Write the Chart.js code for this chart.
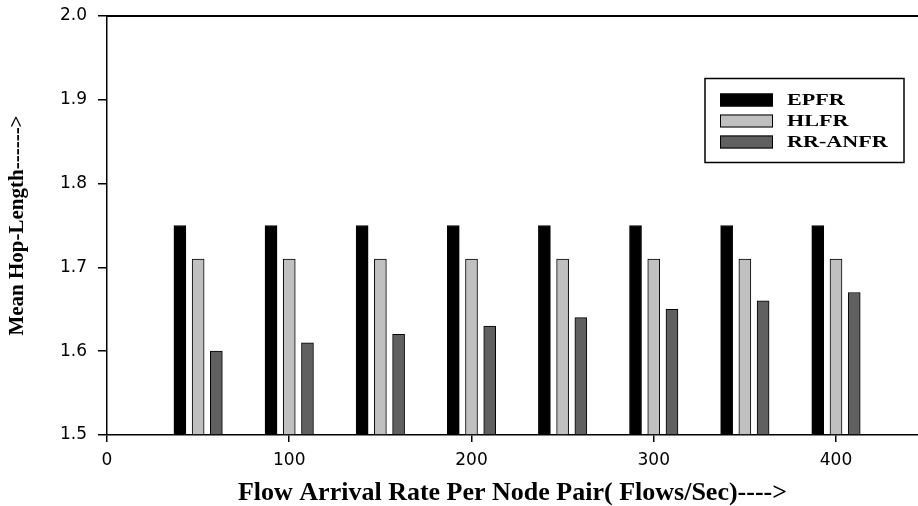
<!DOCTYPE html>
<html>
<head>
<meta charset="utf-8">
<script src="https://cdn.jsdelivr.net/npm/chart.js@4"></script>
<style>
  html, body { margin: 0; padding: 0; background: #fff; }
  #wrap { width: 918px; height: 506px; }
</style>
</head>
<body>
<div id="wrap"><canvas id="myChart"></canvas></div>
<script>
// data
const rates = [50, 100, 150, 200, 250, 300, 350, 400];
const epfr = [1.75, 1.75, 1.75, 1.75, 1.75, 1.75, 1.75, 1.75];
const hlfr = [1.71, 1.71, 1.71, 1.71, 1.71, 1.71, 1.71, 1.71];
const rrAnfr = [1.60, 1.61, 1.62, 1.63, 1.64, 1.65, 1.66, 1.67];
const xTicks = [0, 100, 200, 300, 400];
const yTicks = [1.5, 1.6, 1.7, 1.8, 1.9, 2.0];
const xMax = 445;

const ctx = document.getElementById('myChart');

// each series sits 10 units left/at/right of the group rate
function toPoints(values, shift) {
    return values.map((v, i) => ({ x: rates[i] + shift, y: v }));
}

// legend box + top frame line
const boxLegend = {
    id: 'boxLegend',
    afterDraw(chart) {
        const c = chart.ctx;
        const area = chart.chartArea;
        c.save();
        c.strokeStyle = '#000';
        c.lineWidth = 2;
        c.beginPath();
        c.moveTo(area.left, area.top);
        c.lineTo(area.right, area.top);
        c.stroke();

        const bx = 705, by = 78.5, bw = 199, bh = 84;
        c.lineWidth = 1.5;
        c.strokeRect(bx, by, bw, bh);

        chart.data.datasets.forEach((ds, i) => {
            const cy = 100 + i * 21;
            c.fillStyle = ds.backgroundColor;
            c.fillRect(720, cy - 6.5, 53, 13);
            c.lineWidth = 1;
            c.strokeStyle = '#000';
            c.strokeRect(720.5, cy - 6, 52, 12);
            c.save();
            c.translate(787, cy);
            c.scale(1.3, 1);
            c.fillStyle = '#000';
            c.font = 'bold 17px "Liberation Serif", "Times New Roman", serif';
            c.textBaseline = 'middle';
            c.fillText(ds.label, 0, 1);
            c.restore();
        });
        c.restore();
    }
};

new Chart(ctx, {
    type: 'bar',
    data: {
        datasets: [{
            label: 'EPFR',
            data: toPoints(epfr, -10),
            backgroundColor: '#000000'
        }, {
            label: 'HLFR',
            data: toPoints(hlfr, 0),
            backgroundColor: '#c0c0c0'
        }, {
            label: 'RR-ANFR',
            data: toPoints(rrAnfr, 10),
            backgroundColor: '#606060'
        }]
    },
    options: {
        responsive: true,
        maintainAspectRatio: false,
        animation: false,
        layout: { padding: { top: 16, right: 0, bottom: 0, left: 0 } },
        datasets: {
            bar: {
                grouped: false,
                barThickness: 12,
                borderColor: '#000',
                borderWidth: 1,
                base: 1.5
            }
        },
        scales: {
            x: {
                type: 'linear',
                min: 0,
                max: xMax,
                offset: false,
                afterBuildTicks: scale => { scale.ticks = xTicks.map(v => ({ value: v })); },
                afterFit: scale => { scale.height = 71; },
                grid: { offset: false, drawOnChartArea: false, tickLength: 7, color: '#000', lineWidth: 1.5 },
                border: { color: '#000', width: 1.5 },
                ticks: {
                    color: '#000',
                    padding: 8,
                    maxRotation: 0,
                    font: { family: '"DejaVu Sans", sans-serif', size: 17 }
                },
                title: {
                    display: true,
                    text: 'Flow Arrival Rate Per Node Pair( Flows/Sec)---->',
                    color: '#000',
                    padding: { top: 0, bottom: 0 },
                    font: { family: '"Liberation Serif", "Times New Roman", serif', size: 26, weight: 'bold', lineHeight: 1 }
                }
            },
            y: {
                min: 1.5,
                max: 2.0,
                afterBuildTicks: scale => { scale.ticks = yTicks.map(v => ({ value: v })); },
                afterFit: scale => {
                    scale.width = 107;
                    scale.paddingTop = 0;
                    scale.paddingBottom = 0;
                },
                grid: { drawOnChartArea: false, tickLength: 9, color: '#000', lineWidth: 1.5 },
                border: { color: '#000', width: 1.5 },
                ticks: {
                    color: '#000',
                    padding: 11,
                    callback: v => v.toFixed(1),
                    font: { family: '"DejaVu Sans", sans-serif', size: 17 }
                },
                title: {
                    display: true,
                    text: 'Mean Hop-Length------>',
                    color: '#000',
                    padding: { top: 5, bottom: 0 },
                    font: { family: '"Liberation Serif", "Times New Roman", serif', size: 21, weight: 'bold' }
                }
            }
        },
        plugins: {
            legend: { display: false },
            tooltip: { enabled: false }
        }
    },
    plugins: [boxLegend]
});
</script>
</body>
</html>
